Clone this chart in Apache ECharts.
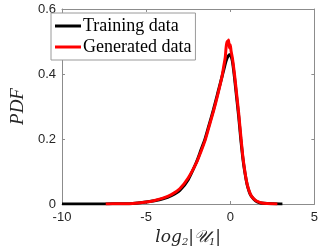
<!DOCTYPE html>
<html><head><meta charset="utf-8">
<script src="https://cdn.jsdelivr.net/npm/echarts@6/dist/echarts.min.js"></script>
<style>html,body{margin:0;padding:0;background:#fff}#c{width:321px;height:252px}</style>
</head><body><div id="c"></div>
<script>
const trainX = [-10,-9,-8,-7,-6,-5.5,-5,-4.5,-4,-3.5,-3,-2.5,-2,-1.75,-1.5,-1.25,-1,-0.75,-0.5,-0.375,-0.25,-0.125,0,0.125,0.25,0.375,0.5,0.625,0.75,0.875,1,1.125,1.25,1.5,1.75,2,2.5,3,3.1];
const trainY = [0,0,0,0.0005,0.001,0.003,0.006,0.01,0.016,0.026,0.042,0.075,0.13,0.165,0.2,0.245,0.29,0.34,0.39,0.415,0.44,0.455,0.46,0.44,0.39,0.33,0.27,0.2,0.14,0.095,0.06,0.038,0.024,0.01,0.004,0.002,0.0005,0,0];
const genX = [-7.4,-7,-6,-5.5,-5,-4.5,-4,-3.5,-3,-2.5,-2,-1.75,-1.5,-1.25,-1,-0.75,-0.5,-0.4,-0.3,-0.25,-0.2,-0.15,-0.1,-0.05,0,0.05,0.125,0.25,0.375,0.5,0.625,0.75,0.875,1,1.125,1.25,1.5,1.75,2,2.5,2.8];
const genY = [0,0.0005,0.001,0.003,0.006,0.011,0.018,0.029,0.047,0.08,0.128,0.16,0.195,0.24,0.285,0.335,0.39,0.42,0.45,0.48,0.5,0.49,0.505,0.48,0.49,0.47,0.45,0.4,0.34,0.28,0.21,0.145,0.098,0.062,0.04,0.025,0.011,0.005,0.002,0.0005,0];
const xTicks = [-10,-5,0,5];
const yTicks = [0,0.2,0.4,0.6];
const seriesNames = ['Training data','Generated data'];

const chart = echarts.init(document.getElementById('c'), null, {renderer:'canvas'});
const axCol = '#8c8c8c';
const lblCol = '#262626';
const zip = (a,b)=>a.map((v,i)=>[v,b[i]]);
const xBase = {type:'value', min:xTicks[0], max:xTicks[xTicks.length-1], interval:5,
  axisLine:{show:true,onZero:false,lineStyle:{color:axCol,width:1}},
  axisTick:{show:true,inside:true,length:3,lineStyle:{color:axCol}},
  splitLine:{show:false}};
const yBase = {type:'value', min:yTicks[0], max:yTicks[yTicks.length-1], interval:0.2,
  axisLine:{show:true,onZero:false,lineStyle:{color:axCol,width:1}},
  axisTick:{show:true,inside:true,length:3,lineStyle:{color:axCol}},
  splitLine:{show:false}};
chart.setOption({
  animation:false,
  grid:{left:47,right:5,top:9,bottom:43,containLabel:false},
  xAxis:[
    Object.assign({}, xBase, {position:'bottom',
      axisLabel:{color:lblCol,fontFamily:'Liberation Sans',fontSize:13,margin:7},
      name:'{i|log}{s|2}{i||𝒰}{s|1}{i||}', nameLocation:'middle', nameGap:24,
      nameTextStyle:{rich:{
        i:{fontFamily:'DejaVu Serif',fontStyle:'italic',fontSize:17,color:lblCol},
        s:{fontFamily:'DejaVu Serif',fontStyle:'italic',fontSize:10,color:lblCol,padding:[9,0,0,0]}
      }}}),
    Object.assign({}, xBase, {position:'top', axisLabel:{show:false}})
  ],
  yAxis:[
    Object.assign({}, yBase, {position:'left',
      axisLabel:{color:lblCol,fontFamily:'Liberation Sans',fontSize:13,margin:6},
      name:'PDF', nameLocation:'middle', nameGap:35, nameRotate:90,
      nameTextStyle:{fontFamily:'Liberation Serif',fontStyle:'italic',fontSize:19,color:lblCol}}),
    Object.assign({}, yBase, {position:'right', axisLabel:{show:false}})
  ],
  legend:{
    data:seriesNames, orient:'vertical', left:51, top:13,
    icon:'rect', itemWidth:26, itemHeight:3, itemGap:3,
    backgroundColor:'#fff', borderColor:'#9a9a9a', borderWidth:1, borderRadius:0,
    padding:[4,4,4,4],
    textStyle:{fontFamily:'Liberation Serif',fontSize:18,color:'#000',padding:[0,0,0,-3]}
  },
  series:[
    {name:seriesNames[0], type:'line', data:zip(trainX,trainY), showSymbol:false, smooth:0.2,
     lineStyle:{color:'#000',width:3}, itemStyle:{color:'#000'}},
    {name:seriesNames[1], type:'line', data:zip(genX,genY), showSymbol:false, smooth:0.2,
     lineStyle:{color:'#ff0000',width:3}, itemStyle:{color:'#ff0000'}}
  ]
});
</script></body></html>
